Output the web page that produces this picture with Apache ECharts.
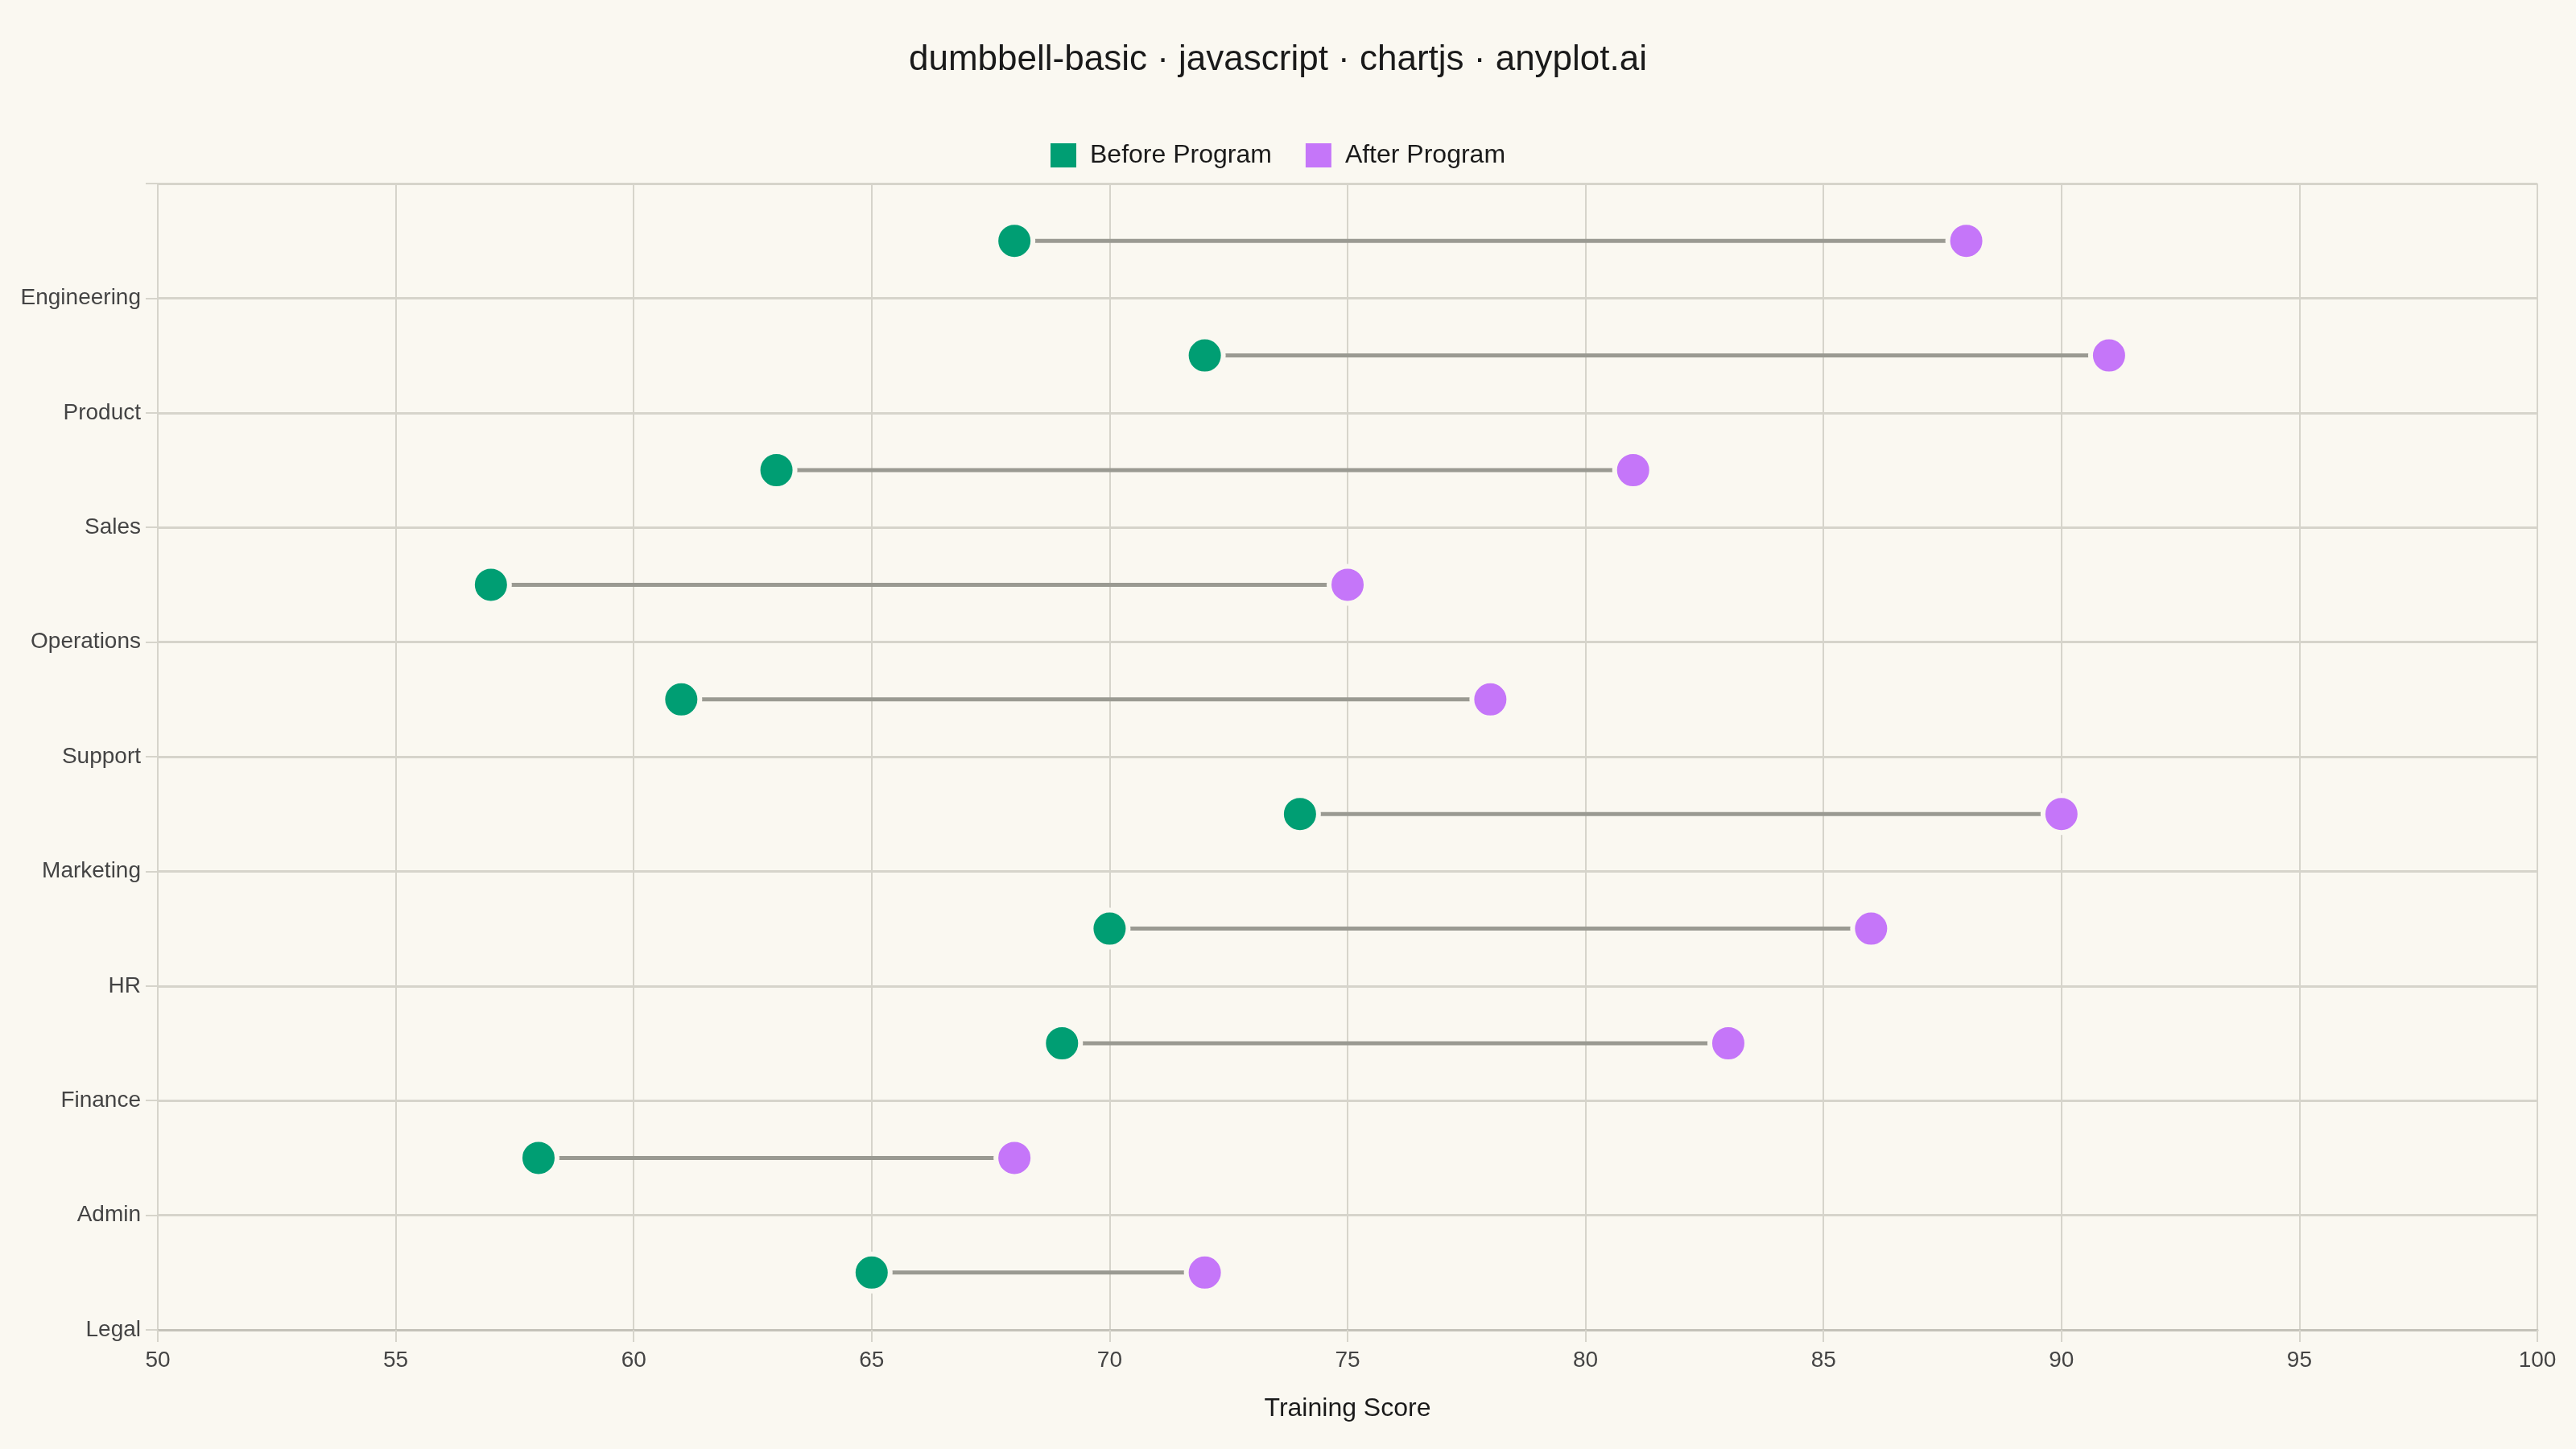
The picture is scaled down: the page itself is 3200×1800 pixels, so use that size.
<!DOCTYPE html>
<html lang="en">
<head>
	<meta charset="UTF-8">
	<title>dumbbell-basic</title>
	<style type="text/css">
		html, body { margin: 0; padding: 0; background: #FAF8F1; }
		#main { width: 3200px; height: 1800px; }
	</style>
</head>
<body>
	<div id="main"></div>
	<script type="text/javascript" src="https://cdn.jsdelivr.net/npm/echarts@6/dist/echarts.min.js"></script>
	<script type="text/javascript">
		// departments, top to bottom
		var departments = ['Engineering', 'Product', 'Sales', 'Operations', 'Support', 'Marketing', 'HR', 'Finance', 'Admin', 'Legal'];
		// scores before / after the program
		var beforeScores = [68, 72, 63, 57, 61, 74, 70, 69, 58, 65];
		var afterScores = [88, 91, 81, 75, 78, 90, 86, 83, 68, 72];
		// x axis ticks
		var xMin = 50;
		var xMax = 100;
		var xStep = 5;

		var bg = '#FAF8F1';
		var green = '#009E73';
		var purple = '#C576F9';
		var font = 'Liberation Sans';

		// label axis: one blank slot on top, labels sit on the grid lines
		var labelCats = [''].concat(departments);

		var segData = [];
		var beforeData = [];
		var afterData = [];
		for (var i = 0; i < departments.length; i++) {
			segData.push([beforeScores[i], afterScores[i], departments[i]]);
			beforeData.push([beforeScores[i], departments[i]]);
			afterData.push([afterScores[i], departments[i]]);
		}

		var myChart = echarts.init(document.getElementById('main'));
		var option = {
			backgroundColor: bg,
			animation: false,
			textStyle: { fontFamily: font },
			title: {
				text: 'dumbbell-basic · javascript · chartjs · anyplot.ai',
				left: 1124,
				top: 48,
				textStyle: { fontFamily: font, fontSize: 44, fontWeight: 'normal', color: '#1a1a1a' }
			},
			legend: {
				top: 172,
				left: 1300,
				icon: 'rect',
				itemWidth: 32,
				itemHeight: 30,
				itemGap: 42,
				itemStyle: { borderWidth: 0 },
				textStyle: { fontFamily: font, fontSize: 32, color: '#1a1a1a', padding: [0, 0, 0, 12] },
				data: ['Before Program', 'After Program']
			},
			grid: { left: 196, right: 48, top: 228, bottom: 148, containLabel: false },
			xAxis: {
				type: 'value',
				min: xMin,
				max: xMax,
				interval: xStep,
				name: 'Training Score',
				nameLocation: 'middle',
				nameGap: 82,
				nameTextStyle: { fontFamily: font, fontSize: 32, color: '#1a1a1a' },
				axisLine: { show: true, lineStyle: { color: '#C4C2B9', width: 3 } },
				axisTick: { show: true, length: 15, lineStyle: { color: '#D6D4CB', width: 2 } },
				axisLabel: { margin: 24, fontSize: 28, color: '#444444', fontFamily: font },
				splitLine: { show: true, lineStyle: { color: '#D6D4CB', width: 2 } }
			},
			yAxis: [
				{
					type: 'category',
					data: labelCats,
					inverse: true,
					boundaryGap: false,
					axisLine: { show: true, lineStyle: { color: '#D6D4CB', width: 2 } },
					axisTick: { show: true, length: 15, alignWithLabel: true, lineStyle: { color: '#D6D4CB', width: 2 } },
					axisLabel: { margin: 21, fontSize: 28, color: '#444444', fontFamily: font, interval: 0 },
					splitLine: { show: true, interval: 0, lineStyle: { color: '#D6D4CB', width: 3 } }
				},
				{
					type: 'category',
					data: departments,
					inverse: true,
					boundaryGap: true,
					show: false
				}
			],
			series: [
				{
					name: 'connector',
					type: 'custom',
					yAxisIndex: 1,
					z: 1,
					silent: true,
					encode: { x: [0, 1], y: 2 },
					data: segData,
					renderItem: function (params, api) {
						var p1 = api.coord([api.value(0), api.value(2)]);
						var p2 = api.coord([api.value(1), api.value(2)]);
						return {
							type: 'line',
							shape: { x1: p1[0], y1: p1[1], x2: p2[0], y2: p2[1] },
							style: { stroke: '#9A9A92', lineWidth: 5 }
						};
					}
				},
				{
					name: 'Before Program',
					type: 'scatter',
					yAxisIndex: 1,
					z: 3,
					symbol: 'circle',
					symbolSize: 46,
					itemStyle: { color: green, borderColor: bg, borderWidth: 6, opacity: 1 },
					data: beforeData
				},
				{
					name: 'After Program',
					type: 'scatter',
					yAxisIndex: 1,
					z: 3,
					symbol: 'circle',
					symbolSize: 46,
					itemStyle: { color: purple, borderColor: bg, borderWidth: 6, opacity: 1 },
					data: afterData
				}
			]
		};
		myChart.setOption(option);
	</script>
</body>
</html>
